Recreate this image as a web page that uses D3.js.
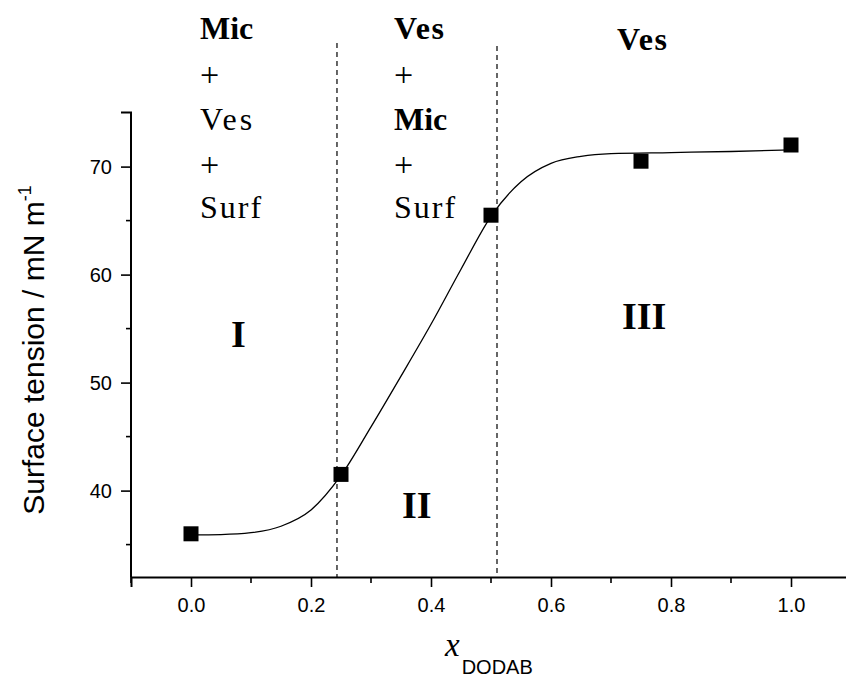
<!DOCTYPE html>
<html><head><meta charset="utf-8">
<script src="https://cdn.jsdelivr.net/npm/d3@7"></script>
<style>body{margin:0;background:#fff}svg{display:block}</style>
</head><body>
<svg id="c" width="846" height="679"></svg>
<script>
// measured points
const pointX = [0, 0.25, 0.5, 0.75, 1.0];
const pointY = [36.0, 41.5, 65.5, 70.5, 72.0];
// fitted curve
const curveX = [0, 0.05, 0.1, 0.15, 0.2, 0.25, 0.3, 0.35, 0.4, 0.45, 0.5, 0.55, 0.6, 0.65, 0.7, 0.8, 0.9, 1.0];
const curveY = [35.9, 35.93, 36.1, 36.7, 38.2, 41.4, 45.9, 50.6, 55.4, 60.5, 65.4, 68.6, 70.3, 70.95, 71.2, 71.3, 71.4, 71.55];
const boundaries = [0.2433, 0.51];
const xTicks = [0.0, 0.2, 0.4, 0.6, 0.8, 1.0];
const yTicks = [40, 50, 60, 70];
const yMinor = [35, 45, 55, 65];
const xMinor = [-0.1, 0.1, 0.3, 0.5, 0.7, 0.9, 1.1];

const svg = d3.select('#c');
const x = d3.scaleLinear().domain([-0.1, 1.1]).range([131, 851]);
const y = d3.scaleLinear().domain([32, 75]).range([577, 112.6]);

// dashed boundaries
svg.selectAll('line.b').data(boundaries).enter().append('line')
  .attr('x1', d => x(d)).attr('x2', d => x(d))
  .attr('y1', (d, i) => i === 0 ? 43 : 46).attr('y2', 577)
  .attr('stroke', '#000').attr('stroke-width', 1.2).attr('stroke-dasharray', '5,4');

// axes
const xAxis = d3.axisBottom(x).tickValues(xTicks).tickFormat(d3.format('.1f')).tickSize(10).tickPadding(11);
const gx = svg.append('g').attr('transform', 'translate(0,577)').call(xAxis);
const yAxis = d3.axisLeft(y).tickValues(yTicks).tickFormat(d3.format('d')).tickSize(10).tickPadding(9);
const gy = svg.append('g').attr('transform', `translate(${x(-0.1)},0)`).call(yAxis);
[gx, gy].forEach(g => {
  g.attr('font-size', null).attr('font-family', null);
  g.select('.domain').attr('stroke-width', 2);
  g.selectAll('.tick line').attr('stroke-width', 1.6);
  g.selectAll('text').style('font-family', 'Liberation Sans, Arial, sans-serif').style('font-size', '20px').attr('fill', '#000');
});
gy.select('.domain').attr('d', `M0,${y(32)}V${y(75)}H-10`);
// minor ticks
svg.append('g').selectAll('line').data(xMinor).enter().append('line')
  .attr('x1', d => x(d)).attr('x2', d => x(d)).attr('y1', 577).attr('y2', 583)
  .attr('stroke', '#000').attr('stroke-width', 1.6);
svg.append('g').selectAll('line').data(yMinor).enter().append('line')
  .attr('x1', x(-0.1)).attr('x2', x(-0.1) - 5).attr('y1', d => y(d)).attr('y2', d => y(d))
  .attr('stroke', '#000').attr('stroke-width', 1.6);

// curve
const line = d3.line().x(d => x(d[0])).y(d => y(d[1])).curve(d3.curveMonotoneX);
svg.append('path').datum(curveX.map((v, i) => [v, curveY[i]]))
  .attr('d', line).attr('fill', 'none').attr('stroke', '#000').attr('stroke-width', 1.3);

// points
svg.selectAll('rect.p').data(pointX.map((v, i) => [v, pointY[i]])).enter().append('rect')
  .attr('x', d => x(d[0]) - 7.5).attr('y', d => y(d[1]) - 7.5)
  .attr('width', 15).attr('height', 15).attr('fill', '#000');

// region labels
const serif = 'Liberation Serif, Times New Roman, serif';
const labels = [
  ['Mic', 200, 39, 'bold', 32, 0], ['+', 200, 86, 'normal', 34, 0], ['Ves', 200, 130, 'normal', 32, 3], ['+', 200, 176, 'normal', 34, 0], ['Surf', 200, 218, 'normal', 32, 2],
  ['Ves', 394, 39, 'bold', 32, 1.5], ['+', 394, 86, 'normal', 34, 0], ['Mic', 394, 130, 'bold', 32, 0], ['+', 394, 176, 'normal', 34, 0], ['Surf', 394, 218, 'normal', 32, 2],
  ['Ves', 617, 50, 'bold', 32, 1.5],
  ['I', 231, 347, 'bold', 38, 0], ['II', 402, 518, 'bold', 38, 0], ['III', 622, 329, 'bold', 38, 0]
];
svg.selectAll('text.l').data(labels).enter().append('text')
  .attr('x', d => d[1]).attr('y', d => d[2]).attr('font-weight', d => d[3])
  .attr('font-family', serif).attr('font-size', d => d[4]).attr('letter-spacing', d => d[5])
  .text(d => d[0]);

// axis titles
const yt = svg.append('text').attr('transform', 'translate(44,350) rotate(-90)')
  .attr('text-anchor', 'middle').attr('font-family', 'Liberation Sans, Arial, sans-serif').attr('font-size', 30);
yt.append('tspan').text('Surface tension / mN m');
yt.append('tspan').attr('font-size', 18).attr('dy', -13).text('-1');

const xt = svg.append('text').attr('x', 445).attr('y', 656);
xt.append('tspan').attr('font-family', serif).attr('font-style', 'italic').attr('font-size', 33).text('x');
xt.append('tspan').attr('font-family', 'Liberation Sans, Arial, sans-serif').attr('font-size', 20).attr('dx', 2).attr('dy', 18).text('DODAB');
</script>
</body></html>
